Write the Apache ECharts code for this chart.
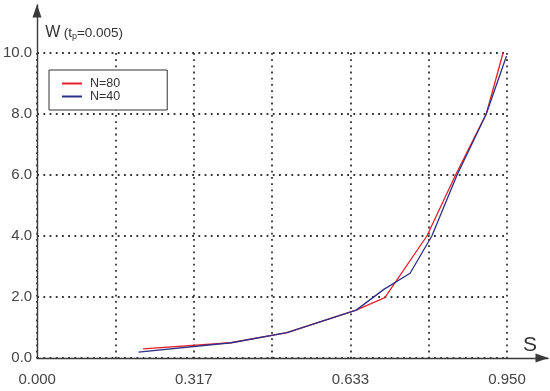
<!DOCTYPE html>
<html>
<head>
<meta charset="utf-8">
<script src="https://cdn.jsdelivr.net/npm/echarts@6/dist/echarts.min.js"></script>
<style>
html,body{margin:0;padding:0;background:#fff;}
#chart{width:550px;height:391px;}
</style>
</head>
<body>
<div id="chart"></div>
<script>
// S values and W values
var s80 = [0.214, 0.392, 0.505, 0.645, 0.703, 0.788, 0.846, 0.908, 0.942];
var w80 = [0.30, 0.50, 0.83, 1.57, 1.98, 4.0, 6.0, 8.0, 10.0];
var s40 = [0.205, 0.392, 0.505, 0.645, 0.701, 0.754, 0.798, 0.849, 0.908, 0.949];
var w40 = [0.19, 0.50, 0.83, 1.57, 2.25, 2.78, 4.0, 6.0, 8.0, 9.9];
var seriesNames = ['N=80', 'N=40'];
var xMax = 0.95;
var xStep = 0.95 / 6;
var yMax = 10;
var yStep = 2;

function pairs(xs, ys) { return xs.map(function (x, i) { return [x, ys[i]]; }); }

var chart = echarts.init(document.getElementById('chart'), null, {renderer: 'canvas'});
var dotted = {color: '#333', width: 1.8, type: [1.8, 4.4]};
var axisCol = '#3a3a3a';
var font = 'Liberation Sans, Arial, sans-serif';

chart.setOption({
  animation: false,
  backgroundColor: '#fff',
  textStyle: {fontFamily: font},
  grid: [
    {left: 37, right: 43, top: 53, bottom: 33},
    {left: 37, right: 2, top: 5, bottom: 33}
  ],
  legend: {
    data: seriesNames,
    orient: 'vertical',
    left: 49, top: 70,
    padding: [7, 47, 7, 13],
    itemWidth: 20, itemHeight: 2, itemGap: 0,
    icon: 'rect',
    borderColor: '#333', borderWidth: 1,
    backgroundColor: '#fff',
    textStyle: {fontSize: 12.5, color: '#333', lineHeight: 13, padding: [0, 0, 0, 3]}
  },
  xAxis: [
    {
      gridIndex: 0, type: 'value', min: 0, max: xMax, interval: xStep,
      axisLine: {show: false}, axisTick: {show: false},
      splitLine: {show: true, lineStyle: dotted},
      axisLabel: {
        fontSize: 15, color: '#444', margin: 14,
        formatter: function (v) {
          var k = Math.round(v / xStep);
          return (k % 2 === 0) ? (k * xStep).toFixed(3) : '';
        }
      },
      name: 'S', nameLocation: 'end', nameGap: 16,
      nameTextStyle: {fontSize: 21, color: '#333', align: 'left', verticalAlign: 'bottom', padding: [0, 0, 2, 0]}
    },
    {
      gridIndex: 1, type: 'value', min: 0, max: 1,
      axisLine: {show: true, symbol: ['none', 'triangle'], symbolSize: [9, 13], symbolOffset: [0, -6], lineStyle: {color: axisCol, width: 1.4}},
      axisTick: {show: false}, axisLabel: {show: false}, splitLine: {show: false}
    }
  ],
  yAxis: [
    {
      gridIndex: 0, type: 'value', min: 0, max: yMax, interval: yStep,
      axisLine: {show: false}, axisTick: {show: false},
      splitLine: {show: true, lineStyle: dotted},
      axisLabel: {fontSize: 15, color: '#444', margin: 5, formatter: function (v) { return v.toFixed(1); }},
      name: '{w|W} {p|(t}{s|p}{p|=0.005)}',
      nameLocation: 'end', nameGap: 20,
      nameTextStyle: {
        align: 'left', verticalAlign: 'middle', padding: [0, 0, 0, 8],
        rich: {
          w: {fontSize: 16, color: '#333'},
          p: {fontSize: 13.5, color: '#333'},
          s: {fontSize: 9, color: '#333', verticalAlign: 'bottom', padding: [5, 0, 0, 0]}
        }
      }
    },
    {
      gridIndex: 1, type: 'value', min: 0, max: 1,
      axisLine: {show: true, symbol: ['none', 'triangle'], symbolSize: [9, 13], symbolOffset: [0, -6], lineStyle: {color: axisCol, width: 1.4}},
      axisTick: {show: false}, axisLabel: {show: false}, splitLine: {show: false}
    }
  ],
  series: [
    {
      name: seriesNames[0], type: 'line', xAxisIndex: 0, yAxisIndex: 0,
      data: pairs(s80, w80), showSymbol: false, symbol: 'none',
      lineStyle: {color: '#e3232b', width: 1.3}, itemStyle: {color: '#e3232b'}, z: 3
    },
    {
      name: seriesNames[1], type: 'line', xAxisIndex: 0, yAxisIndex: 0,
      data: pairs(s40, w40), showSymbol: false, symbol: 'none',
      lineStyle: {color: '#2e3188', width: 1.3}, itemStyle: {color: '#2e3188'}, z: 4
    }
  ]
});
</script>
</body>
</html>
